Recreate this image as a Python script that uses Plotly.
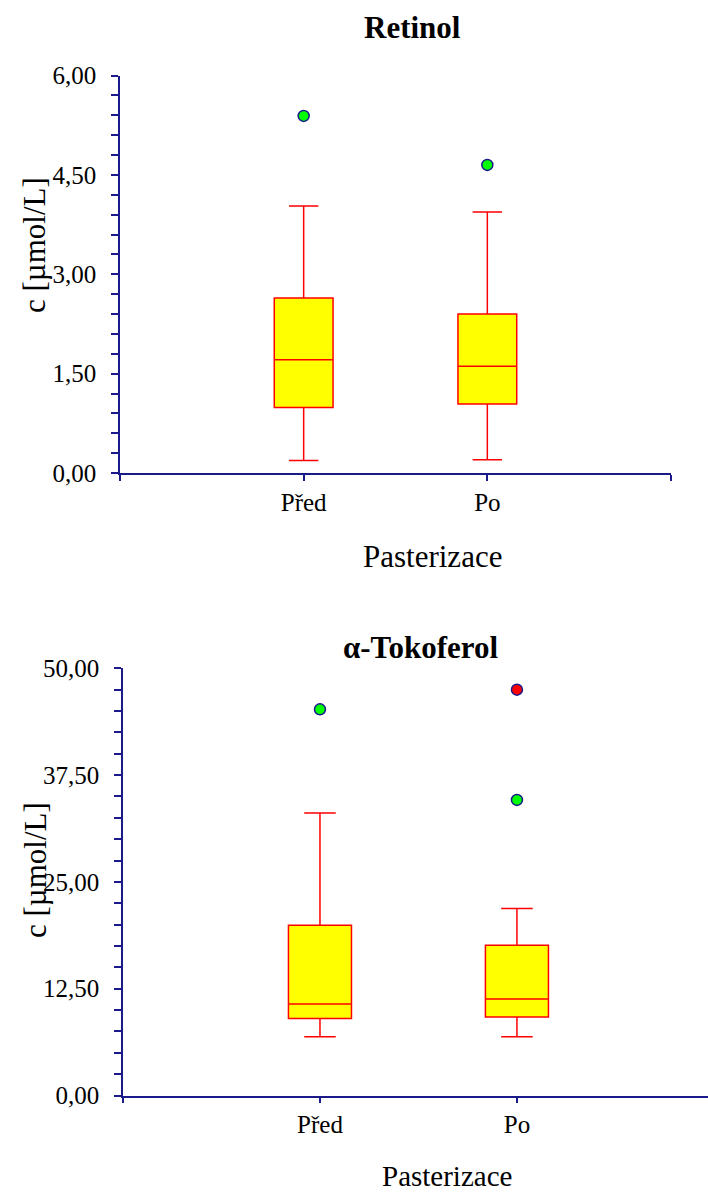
import plotly.graph_objects as go

W, H = 708, 1194
FONT = "Liberation Serif"
NAVY = "#1a1a8a"

categories = ["Před", "Po"]
positions = [1, 2]

# Retinol (µmol/L)
ret_lower = [0.19, 0.20]
ret_q1 = [0.99, 1.04]
ret_median = [1.71, 1.61]
ret_q3 = [2.64, 2.40]
ret_upper = [4.03, 3.94]
ret_out_x = ["Před", "Po"]
ret_out_y = [5.39, 4.65]
ret_out_color = ["#00ff00", "#00ff00"]

# alpha-Tokoferol (µmol/L)
toc_lower = [6.88, 6.88]
toc_q1 = [9.02, 9.18]
toc_median = [10.70, 11.30]
toc_q3 = [19.92, 17.60]
toc_upper = [33.05, 21.90]
toc_out_x = ["Před", "Po", "Po"]
toc_out_y = [45.2, 47.5, 34.6]
toc_out_color = ["#00ff00", "#ff0000", "#00ff00"]

pos_of = dict(zip(categories, positions))

fig = go.Figure()

def add_panel(xa, ya, lower, q1, med, q3, upper, ox, oy, oc):
    fig.add_trace(go.Box(
        x=positions, lowerfence=lower, q1=q1, median=med, q3=q3, upperfence=upper,
        xaxis=xa, yaxis=ya, width=0.32, whiskerwidth=0.5,
        fillcolor="#ffff00", line=dict(color="#ff0000", width=1.5),
        boxpoints=False, showlegend=False, hoverinfo="skip"))
    fig.add_trace(go.Scatter(
        x=[pos_of[c] for c in ox], y=oy, xaxis=xa, yaxis=ya, mode="markers",
        marker=dict(size=11, color=oc, line=dict(color=NAVY, width=1.5)),
        showlegend=False, hoverinfo="skip", cliponaxis=False))

add_panel("x", "y", ret_lower, ret_q1, ret_median, ret_q3, ret_upper,
          ret_out_x, ret_out_y, ret_out_color)
add_panel("x2", "y2", toc_lower, toc_q1, toc_median, toc_q3, toc_upper,
          toc_out_x, toc_out_y, toc_out_color)

def px_x(p):
    return p / W

def px_y(p):
    return 1 - p / H

tickfont = dict(family=FONT, size=25, color="#000000")
xaxis_common = dict(
    showline=True, linecolor=NAVY, linewidth=1.5, ticks="outside", ticklen=6,
    tickcolor=NAVY, tickwidth=1.5, showgrid=False, zeroline=False,
    tickfont=tickfont, fixedrange=True, automargin=False)
yaxis_common = dict(
    showline=True, linecolor=NAVY, linewidth=1.5, ticks="outside", ticklen=7,
    tickcolor=NAVY, tickwidth=1.5, showgrid=False, zeroline=False,
    tickfont=tickfont, tickformat=".2f", fixedrange=True, automargin=False,
    ticklabelstandoff=10)

fig.update_layout(
    width=W, height=H, margin=dict(l=0, r=0, t=0, b=0, pad=0, autoexpand=False),
    paper_bgcolor="white", plot_bgcolor="white", separators=", ",
    showlegend=False,
    xaxis=dict(xaxis_common, domain=[px_x(120), px_x(671)], range=[0, 3],
               tickvals=[0] + positions + [3], ticktext=[""] + categories + [""],
               anchor="y"),
    yaxis=dict(yaxis_common, domain=[px_y(473), px_y(75.5)], range=[0, 6],
               tickvals=[0, 1.5, 3, 4.5, 6],
               minor=dict(dtick=0.3, ticks="outside", ticklen=7, tickcolor=NAVY,
                          tickwidth=1.5, showgrid=False),
               anchor="x"),
    xaxis2=dict(xaxis_common, domain=[px_x(123), 1], range=[0, 2.97],
                tickvals=[0] + positions, ticktext=[""] + categories,
                anchor="y2"),
    yaxis2=dict(yaxis_common, domain=[px_y(1095.5), px_y(668.3)], range=[0, 50],
                tickvals=[0, 12.5, 25, 37.5, 50],
                minor=dict(dtick=2.5, ticks="outside", ticklen=7, tickcolor=NAVY,
                           tickwidth=1.5, showgrid=False),
                anchor="x2"),
)

def ann(text, x, y, size=31, bold=False, angle=0):
    fig.add_annotation(
        text=f"<b>{text}</b>" if bold else text, x=px_x(x), y=px_y(y),
        xref="paper", yref="paper", showarrow=False, textangle=angle,
        xanchor="center", yanchor="middle",
        font=dict(family=FONT, size=size, color="#000000"))

ann("Retinol", 412, 28, size=31, bold=True)
ann("α-Tokoferol", 420, 647, size=31, bold=True)
ann("Pasterizace", 432, 556, size=31)
ann("Pasterizace", 447, 1176, size=29)
ann("c [µmol/L]", 35, 245, size=31, angle=-90)
ann("c [µmol/L]", 35, 870, size=31, angle=-90)

fig.write_html("out.html")
